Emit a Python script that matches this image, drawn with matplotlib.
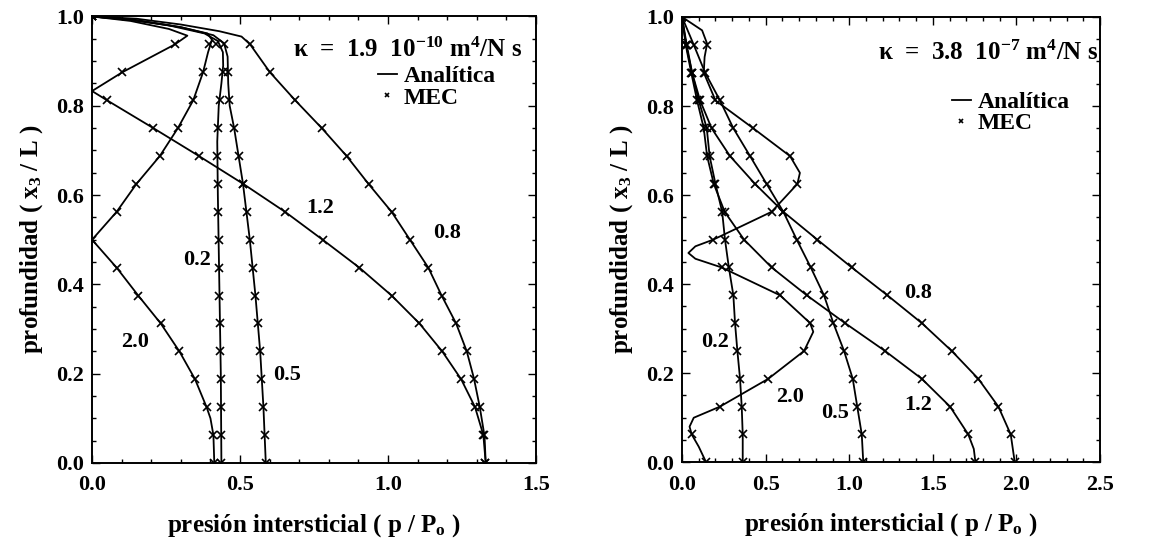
import numpy as np
import matplotlib
matplotlib.use('Agg')
import matplotlib.pyplot as plt
from matplotlib.lines import Line2D
from matplotlib.ticker import MultipleLocator, FormatStrFormatter

plt.rcParams['font.family'] = ['Liberation Serif', 'DejaVu Serif']
plt.rcParams['font.weight'] = 'bold'
plt.rcParams['axes.labelweight'] = 'bold'
plt.rcParams['mathtext.fontset'] = 'custom'
plt.rcParams['mathtext.rm'] = 'Liberation Serif:bold'
plt.rcParams['mathtext.it'] = 'Liberation Serif:bold'
plt.rcParams['mathtext.bf'] = 'Liberation Serif:bold'
plt.rcParams['mathtext.default'] = 'bf'

# ---------------- data ----------------
# MEC nodes are at depth k/16
y_nodes = np.arange(17) / 16.0
series = ['0.2', '0.5', '0.8', '1.2', '2.0']

# left panel : kappa = 1.9e-10
left_mec = {
    '0.2': [0.437, 0.436, 0.435, 0.434, 0.432, 0.431, 0.430, 0.429, 0.428, 0.426, 0.424, 0.422, 0.424, 0.432, 0.443, 0.420, 0.0],
    '0.5': [0.587, 0.583, 0.579, 0.572, 0.568, 0.561, 0.552, 0.545, 0.533, 0.524, 0.510, 0.497, 0.480, 0.462, 0.460, 0.446, 0.0],
    '0.8': [1.328, 1.324, 1.310, 1.290, 1.266, 1.230, 1.181, 1.136, 1.074, 1.012, 0.934, 0.860, 0.776, 0.686, 0.601, 0.534, 0.0],
    '1.2': [1.328, 1.322, 1.294, 1.247, 1.183, 1.106, 1.012, 0.903, 0.779, 0.652, 0.511, 0.361, 0.207, 0.050, 0.102, 0.280, 0.0],
    '2.0': [0.412, 0.410, 0.387, 0.348, 0.295, 0.232, 0.156, 0.083, 0.0, 0.083, 0.150, 0.229, 0.290, 0.342, 0.375, 0.395, 0.0],
}
left_ana = {
    '0.2': [[0.437, 0.435, 0.430, 0.425, 0.423, 0.428, 0.437, 0.443, 0.442, 0.425, 0.38, 0.26, 0.11, 0.0],
            [0.0, 0.2, 0.4, 0.6, 0.72, 0.80, 0.85, 0.89, 0.92, 0.945, 0.962, 0.980, 0.994, 1.0]],
    '0.5': [[0.587, 0.579, 0.568, 0.552, 0.533, 0.510, 0.480, 0.465, 0.460, 0.458, 0.446, 0.41, 0.30, 0.14, 0.0],
            [0.0, 0.125, 0.25, 0.375, 0.5, 0.625, 0.75, 0.80, 0.85, 0.91, 0.94, 0.958, 0.976, 0.993, 1.0]],
    '0.8': [[1.330, 1.326, 1.310, 1.290, 1.266, 1.230, 1.181, 1.136, 1.074, 1.012, 0.934, 0.860, 0.776, 0.686, 0.601, 0.534, 0.505, 0.43, 0.30, 0.15, 0.0],
            [0.0, 0.06, 0.125, 0.19, 0.25, 0.3125, 0.375, 0.4375, 0.5, 0.5625, 0.625, 0.6875, 0.75, 0.8125, 0.875, 0.9375, 0.955, 0.967, 0.982, 0.995, 1.0]],
    '1.2': [[1.330, 1.322, 1.294, 1.247, 1.183, 1.106, 1.012, 0.903, 0.779, 0.652, 0.511, 0.361, 0.207, 0.050, 0.0, 0.102, 0.280, 0.322, 0.26, 0.13, 0.0],
            [0.0, 0.0625, 0.125, 0.1875, 0.25, 0.3125, 0.375, 0.4375, 0.5, 0.5625, 0.625, 0.6875, 0.75, 0.8125, 0.833, 0.875, 0.9375, 0.957, 0.972, 0.99, 1.0]],
    '2.0': [[0.413, 0.410, 0.400, 0.387, 0.348, 0.295, 0.232, 0.156, 0.083, 0.0, 0.083, 0.150, 0.229, 0.290, 0.342, 0.375, 0.392, 0.405, 0.39, 0.30, 0.15, 0.0],
            [0.0, 0.0625, 0.10, 0.125, 0.1875, 0.25, 0.3125, 0.375, 0.4375, 0.5, 0.5625, 0.625, 0.6875, 0.75, 0.8125, 0.875, 0.92, 0.948, 0.962, 0.976, 0.991, 1.0]],
}
left_labels = {'0.2': (0.354, 0.455), '0.5': (0.66, 0.197), '0.8': (1.20, 0.514),
               '1.2': (0.77, 0.57), '2.0': (0.145, 0.272)}

# right panel : kappa = 3.8e-7
right_mec = {
    '0.2': [0.363, 0.363, 0.357, 0.347, 0.331, 0.317, 0.307, 0.280, 0.257, 0.240, 0.200, 0.165, 0.148, 0.100, 0.060, 0.028, 0.0],
    '0.5': [1.084, 1.075, 1.048, 1.021, 0.969, 0.905, 0.849, 0.770, 0.686, 0.606, 0.506, 0.407, 0.307, 0.227, 0.138, 0.070, 0.0],
    '0.8': [1.990, 1.966, 1.892, 1.772, 1.613, 1.434, 1.228, 1.015, 0.809, 0.606, 0.437, 0.287, 0.177, 0.108, 0.060, 0.024, 0.0],
    '1.2': [1.752, 1.712, 1.603, 1.434, 1.214, 0.975, 0.746, 0.536, 0.371, 0.255, 0.190, 0.150, 0.130, 0.090, 0.055, 0.022, 0.0],
    '2.0': [0.144, 0.058, 0.227, 0.516, 0.730, 0.766, 0.586, 0.237, 0.187, 0.536, 0.690, 0.646, 0.426, 0.200, 0.130, 0.148, 0.0],
}
right_ana = {
    '0.2': [right_mec['0.2'], list(y_nodes)],
    '0.5': [right_mec['0.5'], list(y_nodes)],
    '0.8': [right_mec['0.8'], list(y_nodes)],
    '1.2': [[1.755, 1.745, 1.712, 1.603, 1.434, 1.214, 0.975, 0.746, 0.536, 0.371, 0.255, 0.190, 0.150, 0.130, 0.090, 0.055, 0.022, 0.0],
            [0.0, 0.03, 0.0625, 0.125, 0.1875, 0.25, 0.3125, 0.375, 0.4375, 0.5, 0.5625, 0.625, 0.6875, 0.75, 0.8125, 0.875, 0.9375, 1.0]],
    '2.0': [[0.144, 0.10, 0.058, 0.045, 0.07, 0.227, 0.516, 0.730, 0.785, 0.766, 0.586, 0.237, 0.08, 0.038, 0.08, 0.187, 0.536, 0.690, 0.705, 0.646, 0.426, 0.200, 0.130, 0.135, 0.150, 0.12, 0.0],
            [0.0, 0.035, 0.0625, 0.08, 0.10, 0.125, 0.1875, 0.25, 0.293, 0.3125, 0.375, 0.4375, 0.457, 0.47, 0.485, 0.5, 0.5625, 0.625, 0.65, 0.6875, 0.75, 0.8125, 0.875, 0.91, 0.94, 0.97, 1.0]],
}
right_labels = {'0.2': (0.197, 0.271), '0.5': (0.915, 0.11), '0.8': (1.413, 0.38),
                '1.2': (1.413, 0.129), '2.0': (0.646, 0.147)}

panels = [
    dict(mec=left_mec, ana=left_ana, labels=left_labels, xmax=1.5,
         kappa=r'$\kappa$  =  1.9  10$^{-10}$ m$^{4}$/N s',
         pos=[0.0797, 0.1458, 0.3844, 0.8238], kpos=(0.679, 0.925), lpos=(0.644, 0.89)),
    dict(mec=right_mec, ana=right_ana, labels=right_labels, xmax=2.5,
         kappa=r'$\kappa$  =  3.8  10$^{-7}$ m$^{4}$/N s',
         pos=[0.5905, 0.1471, 0.3619, 0.8216], kpos=(1.172, 0.92), lpos=(0.645, 0.833)),
]

fig = plt.figure(figsize=(11.55, 5.42), dpi=100)

for p in panels:
    ax = fig.add_axes(p['pos'])
    for key in series:
        xa, ya = p['ana'][key]
        ax.plot(xa, ya, color='k', lw=1.3)
        ax.plot(p['mec'][key], y_nodes, ls='none', marker='x', color='k', ms=6, mew=1.2)
        tx, ty = p['labels'][key]
        ax.text(tx, ty, key, fontsize=16, ha='center', va='center')

    ax.text(p['kpos'][0], p['kpos'][1], p['kappa'], fontsize=18, ha='left', va='center')
    h = [Line2D([], [], color='k', lw=1.3),
         Line2D([], [], ls='none', marker='x', color='k', ms=3.5, mew=1.2)]
    ax.legend(h, ['Analítica', 'MEC'], loc='upper left', bbox_to_anchor=p['lpos'],
              frameon=False, handlelength=0.8, handletextpad=0.3, borderaxespad=0, borderpad=0,
              labelspacing=0.0, fontsize=17)

    ax.set_xlim(0, p['xmax'])
    ax.set_ylim(0, 1.0)
    ax.xaxis.set_major_locator(MultipleLocator(0.5))
    ax.xaxis.set_minor_locator(MultipleLocator(0.1))
    ax.yaxis.set_major_locator(MultipleLocator(0.2))
    ax.yaxis.set_minor_locator(MultipleLocator(0.05))
    ax.xaxis.set_major_formatter(FormatStrFormatter('%.1f'))
    ax.yaxis.set_major_formatter(FormatStrFormatter('%.1f'))
    ax.tick_params(which='both', direction='in', top=True, right=True, width=1.0)
    ax.tick_params(which='major', length=6, labelsize=16)
    ax.tick_params(axis='x', which='major', pad=9)
    ax.tick_params(axis='y', which='major', pad=6)
    ax.tick_params(which='minor', length=3)
    for s in ax.spines.values():
        s.set_linewidth(1.4)
    ax.set_xlabel(r'presión intersticial ( p / P$_{o}$ )', fontsize=18, fontweight='bold', labelpad=12)
    ax.set_ylabel(r'profundidad ( x$_{3}$ / L )', fontsize=18, fontweight='bold', labelpad=8)

fig.savefig('out.png', dpi=100)
